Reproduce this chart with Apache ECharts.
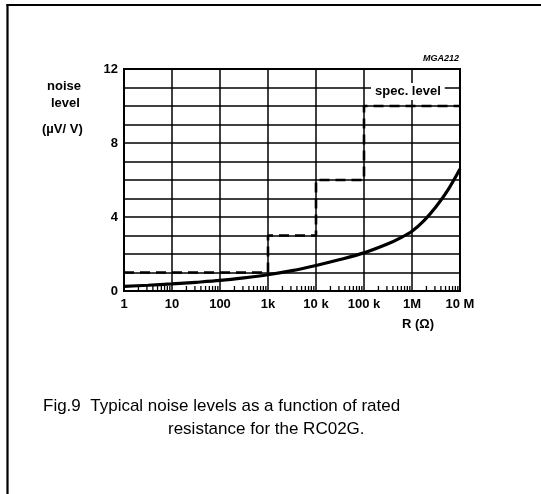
<!DOCTYPE html>
<html>
<head>
<meta charset="utf-8">
<script src="https://cdn.jsdelivr.net/npm/echarts@6/dist/echarts.min.js"></script>
<style>
html,body{margin:0;padding:0;background:#fff;}
#chart{width:541px;height:494px;}
</style>
</head>
<body>
<div id="chart"></div>
<script>
// Data
var xTickValues = [1, 10, 100, 1000, 10000, 100000, 1000000, 10000000];
var xTickLabels = ['1', '10', '100', '1k', '10 k', '100 k', '1M', '10 M'];
var yTickLabels = ['0', '4', '8', '12'];
var noiseR = [1, 3.16, 10, 31.6, 100, 316, 1000, 3160, 10000, 31600, 100000, 316000, 562000, 1000000, 1780000, 3160000, 5620000, 10000000];
var noiseLevel = [0.25, 0.31, 0.38, 0.47, 0.57, 0.71, 0.88, 1.1, 1.38, 1.7, 2.06, 2.55, 2.86, 3.23, 3.8, 4.55, 5.47, 6.6];
var specR = [1, 1000, 10000, 100000, 10000000];
var specLevel = [1, 3, 6, 10, 10];
var minorMultipliers = [2, 3, 4, 5, 6, 7, 8, 9];

var minorTicks = [];
for (var d = 0; d < xTickValues.length - 1; d++) {
  for (var m = 0; m < minorMultipliers.length; m++) {
    minorTicks.push([xTickValues[d] * minorMultipliers[m]]);
  }
}

var FONT = 'Liberation Sans, Arial, sans-serif';
var chart = echarts.init(document.getElementById('chart'), null, {renderer: 'canvas'});
var option = {
  animation: false,
  backgroundColor: '#fff',
  grid: {left: 124, right: 81, top: 69, bottom: 203, show: true, borderColor: '#000', borderWidth: 2, backgroundColor: 'transparent'},
  xAxis: {
    type: 'log', logBase: 10, min: 1, max: 10000000, splitNumber: 7,
    axisLine: {show: true, lineStyle: {color: '#000', width: 2}},
    axisTick: {show: false},
    splitLine: {show: true, lineStyle: {color: '#000', width: 1.5}},
    axisLabel: {
      color: '#000', fontFamily: FONT, fontSize: 13, fontWeight: 'bold', margin: 7,
      formatter: function (v) {
        var i = xTickValues.findIndex(function (t) { return Math.abs(Math.log10(t) - Math.log10(v)) < 1e-6; });
        return i >= 0 ? xTickLabels[i] : '';
      }
    }
  },
  yAxis: {
    type: 'value', min: 0, max: 12, interval: 1,
    axisLine: {show: true, lineStyle: {color: '#000', width: 2}},
    axisTick: {show: false},
    splitLine: {show: true, lineStyle: {color: '#000', width: 1.5}},
    axisLabel: {
      color: '#000', fontFamily: FONT, fontSize: 13, fontWeight: 'bold', margin: 6,
      formatter: function (v) {
        var s = String(v);
        return yTickLabels.indexOf(s) >= 0 ? s : '';
      }
    }
  },
  series: [
    {
      type: 'custom',
      data: minorTicks,
      silent: true,
      z: 5,
      renderItem: function (params, api) {
        var p = api.coord([api.value(0), 0]);
        return {type: 'line', shape: {x1: p[0], y1: p[1], x2: p[0], y2: p[1] - 5}, style: {stroke: '#000', lineWidth: 1.3}};
      }
    },
    {
      type: 'line', name: 'spec. level',
      data: specR.map(function (r, i) { return [r, specLevel[i]]; }),
      step: 'end', showSymbol: false, symbol: 'none',
      lineStyle: {color: '#000', width: 2.6, type: [10, 6]},
      z: 6
    },
    {
      type: 'line', name: 'noise',
      data: noiseR.map(function (r, i) { return [r, noiseLevel[i]]; }),
      smooth: 0.3, showSymbol: false, symbol: 'none',
      lineStyle: {color: '#000', width: 3.2},
      z: 7
    }
  ],
  graphic: [
    {type: 'line', shape: {x1: 7.5, y1: 4, x2: 7.5, y2: 494}, style: {stroke: '#000', lineWidth: 2.2}},
    {type: 'line', shape: {x1: 6.5, y1: 5, x2: 541, y2: 5}, style: {stroke: '#000', lineWidth: 2.2}},
    {type: 'text', left: 47, top: 80, style: {text: 'noise', font: 'bold 13px ' + FONT, fill: '#000'}},
    {type: 'text', left: 51, top: 97, style: {text: 'level', font: 'bold 13px ' + FONT, fill: '#000'}},
    {type: 'text', left: 42, top: 123, style: {text: '(µV/ V)', font: 'bold 13px ' + FONT, fill: '#000'}},
    {type: 'text', right: 82, top: 54, style: {text: 'MGA212', font: 'italic bold 9px ' + FONT, fill: '#000'}},
    {type: 'text', left: 371, top: 83, z: 20, style: {text: 'spec. level', font: 'bold 13px ' + FONT, fill: '#000', backgroundColor: '#fff', padding: [2, 4, 2, 4]}},
    {type: 'text', left: 402, top: 318, style: {text: 'R (Ω)', font: 'bold 13px ' + FONT, fill: '#000'}},
    {type: 'text', left: 43, top: 398, style: {text: 'Fig.9  Typical noise levels as a function of rated', font: '17px ' + FONT, fill: '#000'}},
    {type: 'text', left: 168, top: 421, style: {text: 'resistance for the RC02G.', font: '17px ' + FONT, fill: '#000'}}
  ]
};
chart.setOption(option);
</script>
</body>
</html>
